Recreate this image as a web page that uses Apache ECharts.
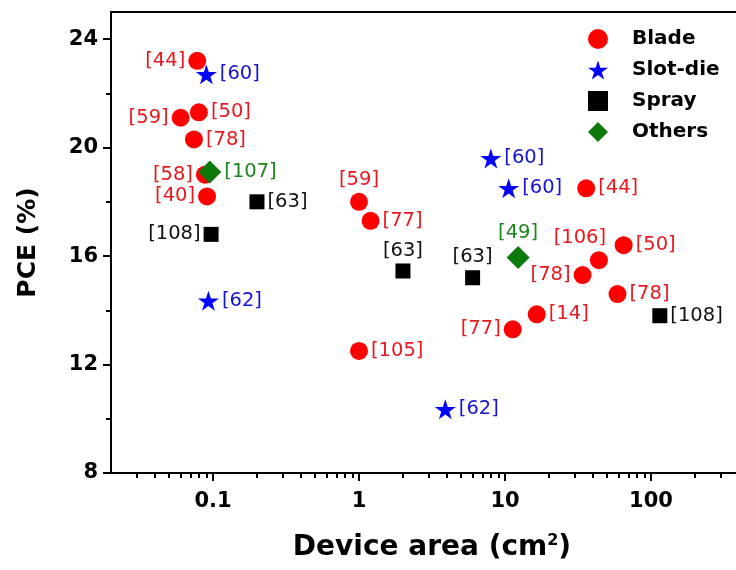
<!DOCTYPE html>
<html>
<head>
<meta charset="utf-8">
<script src="https://cdn.jsdelivr.net/npm/echarts@6/dist/echarts.min.js"></script>
<style>html,body{margin:0;padding:0;background:#fff}#c{width:736px;height:570px}</style>
</head>
<body>
<div id="c"></div>
<script>
// ---- data ----
const bladeArea = [0.078, 0.060, 0.080, 0.074, 0.088, 0.091, 1.0, 1.2, 1.0, 11.3, 16.5, 34, 44, 65, 59, 36];
const bladePCE  = [23.2, 21.1, 21.3, 20.3, 19.0, 18.2, 18.0, 17.3, 12.5, 13.3, 13.85, 15.3, 15.85, 16.4, 14.6, 18.5];
const bladeRefs = ['[44]','[59]','[50]','[78]','[58]','[40]','[59]','[77]','[105]','[77]','[14]','[78]','[106]','[50]','[78]','[44]'];

const slotArea = [0.09, 0.093, 8.0, 10.6, 3.9];
const slotPCE  = [22.7, 14.35, 19.6, 18.5, 10.35];
const slotRefs = ['[60]','[62]','[60]','[60]','[62]'];

const sprayArea = [0.097, 0.2, 2.0, 6.0, 115];
const sprayPCE  = [16.8, 18.0, 15.45, 15.2, 13.8];
const sprayRefs = ['[108]','[63]','[63]','[63]','[108]'];

const otherArea = [0.095, 12.3];
const otherPCE  = [19.1, 15.95];
const otherRefs = ['[107]','[49]'];

const seriesNames = ['Blade', 'Slot-die', 'Spray', 'Others'];
const xMinorTickValues = [0.03,0.04,0.05,0.06,0.07,0.08,0.09,0.2,0.3,0.4,0.5,0.6,0.7,0.8,0.9,2,3,4,5,6,7,8,9,20,30,40,50,60,70,80,90,200,300,400,500];
const yTickValues = [8, 12, 16, 20, 24];
const yMinorTickValues = [10, 14, 18, 22];
const xRange = [0.02, 500];
const yRange = [8, 25];

// ---- layout (label placement per point) ----
const bladePlace = ['left','left','right','right','left','left','top','right','right','left','right','left','topLeft','right','right','right'];
const slotPlace  = ['right','right','right','right','right'];
const sprayPlace = ['left','right','top','top','right'];
const otherPlace = ['right','top'];

const FONT = 'DejaVu Sans';
const STAR = 'path://M50 0 L61.23 34.55 L97.55 34.55 L68.16 55.9 L79.39 90.45 L50 69.1 L20.61 90.45 L31.84 55.9 L2.45 34.55 L38.77 34.55 Z';

function build(xs, ys, refs, places) {
  return xs.map((x, i) => {
    const p = places[i];
    const lab = { position: p === 'topLeft' ? 'top' : p };
    if (p === 'topLeft') lab.offset = [-19, 0];
    return { value: [x, ys[i]], name: refs[i], label: lab };
  });
}

function mkSeries(name, data, symbol, size, color, labelColor) {
  return {
    name: name, type: 'scatter', xAxisIndex: 0, yAxisIndex: 0,
    data: data, symbol: symbol, symbolSize: size, symbolKeepAspect: true,
    itemStyle: { color: color, opacity: 1 },
    label: { show: true, formatter: p => p.name, color: labelColor, fontFamily: FONT, fontSize: 19.5, distance: 3 },
    emphasis: { disabled: true }
  };
}

const chart = echarts.init(document.getElementById('c'), null, { renderer: 'canvas' });
chart.setOption({
  animation: false,
  backgroundColor: '#fff',
  grid: { left: 111, top: 12, width: 642, height: 461, show: false, containLabel: false, outerBoundsMode: 'none' },
  legend: {
    orient: 'vertical', left: 583, top: 24, itemWidth: 20, itemHeight: 20, itemGap: 11,
    data: seriesNames,
    textStyle: { fontFamily: FONT, fontWeight: 'bold', fontSize: 20, color: '#000', padding: [0, 0, 0, 19] }
  },
  xAxis: [
    {
      type: 'log', min: xRange[0], max: xRange[1], logBase: 10,
      name: 'Device area (cm{sup|2})', nameLocation: 'middle', nameGap: 60,
      nameTextStyle: { fontFamily: FONT, fontWeight: 'bold', fontSize: 28, color: '#000',
        rich: { sup: { fontFamily: FONT, fontWeight: 'bold', fontSize: 16, color: '#000', verticalAlign: 'top', padding: [0, 0, 14, 0] } } },
      axisLine: { show: true, onZero: false, lineStyle: { color: '#000', width: 2 } },
      axisTick: { show: true, inside: false, length: 8, lineStyle: { color: '#000', width: 2 } },
      axisLabel: { show: true, margin: 18, fontFamily: FONT, fontWeight: 'bold', fontSize: 21, color: '#000', showMinLabel: false, showMaxLabel: false },
      splitLine: { show: false }, minorTick: { show: false }
    },
    {
      type: 'value', min: Math.log10(xRange[0]), max: Math.log10(xRange[1]), position: 'bottom',
      axisLine: { show: false, onZero: false },
      axisTick: { show: true, inside: false, length: 5, lineStyle: { color: '#000', width: 2 }, customValues: xMinorTickValues.map(v => Math.log10(v)) },
      axisLabel: { show: false }, splitLine: { show: false }
    },
    {
      type: 'value', min: 0, max: 1, position: 'top',
      axisLine: { show: true, onZero: false, lineStyle: { color: '#000', width: 2 } },
      axisTick: { show: false }, axisLabel: { show: false }, splitLine: { show: false }
    }
  ],
  yAxis: [
    {
      type: 'value', min: yRange[0], max: yRange[1],
      name: 'PCE (%)', nameLocation: 'middle', nameGap: 70, nameRotate: 90,
      nameTextStyle: { fontFamily: FONT, fontWeight: 'bold', fontSize: 25, color: '#000' },
      axisLine: { show: true, onZero: false, lineStyle: { color: '#000', width: 2 } },
      axisTick: { show: true, inside: false, length: 8, lineStyle: { color: '#000', width: 2 }, customValues: yTickValues },
      axisLabel: { show: true, margin: 13, fontFamily: FONT, fontWeight: 'bold', fontSize: 21, color: '#000', customValues: yTickValues },
      splitLine: { show: false }
    },
    {
      type: 'value', min: yRange[0], max: yRange[1], position: 'left',
      axisLine: { show: false, onZero: false },
      axisTick: { show: true, inside: false, length: 5, lineStyle: { color: '#000', width: 2 }, customValues: yMinorTickValues },
      axisLabel: { show: false }, splitLine: { show: false }
    }
  ],
  series: [
    mkSeries('Blade', build(bladeArea, bladePCE, bladeRefs, bladePlace), 'circle', 18, '#ff0000', '#e8191e'),
    mkSeries('Slot-die', build(slotArea, slotPCE, slotRefs, slotPlace), STAR, 21, '#0000ff', '#1414d2'),
    mkSeries('Spray', build(sprayArea, sprayPCE, sprayRefs, sprayPlace), 'rect', 15, '#000000', '#111111'),
    mkSeries('Others', build(otherArea, otherPCE, otherRefs, otherPlace), 'diamond', 23, '#0b7a0b', '#1e841e')
  ]
});
</script>
</body>
</html>
